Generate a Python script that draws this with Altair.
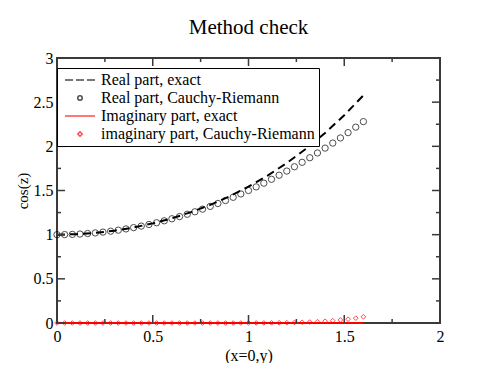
import altair as alt
import pandas as pd

# ---- data ----
exact_y = [0.0, 0.1, 0.2, 0.3, 0.4, 0.5, 0.6, 0.7, 0.8, 0.9, 1.0, 1.1, 1.2, 1.3, 1.4, 1.5, 1.6]
real_exact = [1.000, 1.005, 1.020, 1.045, 1.081, 1.128, 1.185, 1.255, 1.337, 1.433,
              1.543, 1.669, 1.811, 1.971, 2.151, 2.352, 2.577]
imag_exact = [0.0, 0.0, 0.0, 0.0, 0.0, 0.0, 0.0, 0.0, 0.0, 0.0,
              0.0, 0.0, 0.0, 0.0, 0.0, 0.0, 0.0]

cr_y = [0.00, 0.04, 0.08, 0.12, 0.16, 0.20, 0.24, 0.28, 0.32, 0.36,
        0.40, 0.44, 0.48, 0.52, 0.56, 0.60, 0.64, 0.68, 0.72, 0.76,
        0.80, 0.84, 0.88, 0.92, 0.96, 1.00, 1.04, 1.08, 1.12, 1.16,
        1.20, 1.24, 1.28, 1.32, 1.36, 1.40, 1.44, 1.48, 1.52, 1.56, 1.60]
real_cr = [1.000, 1.001, 1.003, 1.007, 1.013, 1.020, 1.029, 1.039, 1.051, 1.065,
           1.080, 1.097, 1.115, 1.135, 1.157, 1.180, 1.205, 1.231, 1.259, 1.289,
           1.320, 1.353, 1.387, 1.423, 1.461, 1.500, 1.541, 1.583, 1.627, 1.673,
           1.720, 1.769, 1.819, 1.871, 1.925, 1.980, 2.037, 2.095, 2.155, 2.217, 2.280]
imag_cr = [0.000, 0.000, 0.000, 0.000, 0.000, 0.000, 0.000, 0.000, 0.000, 0.000,
           0.000, 0.000, 0.000, 0.000, 0.000, 0.000, 0.000, 0.000, 0.000, 0.000,
           0.000, 0.000, 0.000, 0.000, 0.000, 0.001, 0.001, 0.0015, 0.002, 0.003,
           0.004, 0.006, 0.008, 0.011, 0.015, 0.020, 0.026, 0.034, 0.043, 0.055, 0.070]

series = ["Real part, exact", "Real part, Cauchy-Riemann",
          "Imaginary part, exact", "imaginary part, Cauchy-Riemann"]
series_colors = ["black", "black", "red", "red"]

x_major = [0.0, 0.5, 1.0, 1.5, 2.0]
x_minor = [0.25, 0.75, 1.25, 1.75]
y_major = [0.0, 0.5, 1.0, 1.5, 2.0, 2.5, 3.0]
y_minor = [0.25, 0.75, 1.25, 1.75, 2.25, 2.75]

# ---- layout / style ----
W, H = 383, 265
FONT = "Liberation Serif"
FRAME = "#3a3a3a"

# legend glyphs (unit box scaled by sqrt(size)/2)
dash_path = "M-6.7,0H-3.1M-1.8,0H1.8M3.1,0H6.7"
line_path = "M-6.7,0H6.7"
series_shapes = [dash_path, "circle", line_path, "diamond"]

xs = alt.Scale(domain=[0, 2], nice=False, zero=False)
ys = alt.Scale(domain=[0, 3], nice=False, zero=False)

exact_df = pd.DataFrame({"y": exact_y, "re": real_exact, "im": imag_exact})
cr_df = pd.DataFrame({"y": cr_y, "re": real_cr, "im": imag_cr})
cr_df["series"] = series[1]

x_axis = alt.Axis(values=x_major, format="~g", ticks=False, domain=False, grid=False,
                  labelFlush=False, labelOverlap=False,
                  labelFont=FONT, labelFontSize=16, labelColor="black", labelPadding=5,
                  title="(x=0,y)", titleFont=FONT, titleFontSize=16, titleFontWeight="normal",
                  titleColor="black", titlePadding=3)
y_axis = alt.Axis(values=y_major, format="~g", ticks=False, domain=False, grid=False,
                  labelFlush=False, labelOverlap=False,
                  labelFont=FONT, labelFontSize=16, labelColor="black", labelPadding=4,
                  title="cos(z)", titleFont=FONT, titleFontSize=15, titleFontWeight="normal",
                  titleColor="black", titlePadding=3)

real_line = alt.Chart(exact_df).mark_line(color="black", strokeWidth=2, strokeDash=[8, 5]).encode(
    x=alt.X("y:Q", scale=xs, axis=x_axis),
    y=alt.Y("re:Q", scale=ys, axis=y_axis),
)
imag_line = alt.Chart(exact_df).mark_line(color="red", strokeWidth=2).encode(
    x=alt.X("y:Q", scale=xs, axis=x_axis),
    y=alt.Y("im:Q", scale=ys, axis=y_axis),
)
real_pts = alt.Chart(cr_df).mark_point(filled=False, strokeWidth=1, size=40).encode(
    x=alt.X("y:Q", scale=xs, axis=x_axis),
    y=alt.Y("re:Q", scale=ys, axis=y_axis),
    color=alt.Color("series:N", scale=alt.Scale(domain=series, range=series_colors),
                    sort=series,
                    legend=alt.Legend(title=None, orient="none", legendX=0, legendY=10,
                                      labelFont=FONT, labelFontSize=16, labelColor="black",
                                      labelLimit=400, symbolSize=20, symbolStrokeWidth=1.5,
                                      symbolOffset=11, labelOffset=13, padding=4,
                                      rowPadding=2, strokeColor="black", fillColor="white")),
    shape=alt.Shape("series:N", scale=alt.Scale(domain=series, range=series_shapes),
                    sort=series, legend=None),
)
imag_pts = alt.Chart(cr_df).mark_point(filled=False, strokeWidth=1, size=22, shape="diamond",
                                       color="red").encode(
    x=alt.X("y:Q", scale=xs, axis=x_axis),
    y=alt.Y("im:Q", scale=ys, axis=y_axis),
)

# inside ticks on all four sides of the frame
tick_layers = []
for vals, ln in [(x_major, 8), (x_minor, 4)]:
    d = pd.DataFrame({"y": vals})
    base = alt.Chart(d).mark_rule(color=FRAME, strokeWidth=1.5)
    tick_layers.append(base.encode(x=alt.X("y:Q", scale=xs, axis=x_axis),
                                   y=alt.value(H), y2=alt.value(H - ln)))
    tick_layers.append(base.encode(x=alt.X("y:Q", scale=xs, axis=x_axis),
                                   y=alt.value(0), y2=alt.value(ln)))
for vals, ln in [(y_major, 8), (y_minor, 4)]:
    d = pd.DataFrame({"re": vals})
    base = alt.Chart(d).mark_rule(color=FRAME, strokeWidth=1.5)
    tick_layers.append(base.encode(y=alt.Y("re:Q", scale=ys, axis=y_axis),
                                   x=alt.value(0), x2=alt.value(ln)))
    tick_layers.append(base.encode(y=alt.Y("re:Q", scale=ys, axis=y_axis),
                                   x=alt.value(W), x2=alt.value(W - ln)))

chart = alt.layer(
    real_line, imag_line, imag_pts, real_pts, *tick_layers
).properties(
    width=W, height=H,
    title=alt.TitleParams("Method check", font=FONT, fontSize=21, fontWeight="normal",
                          color="black", anchor="middle", offset=12),
    autosize=alt.AutoSizeParams(type="none"),
    padding={"left": 49, "top": 50, "right": 40, "bottom": 40},
).configure_view(
    stroke=FRAME, strokeWidth=2
)

chart.save("out.html", embed_options={"renderer": "svg", "actions": False})
